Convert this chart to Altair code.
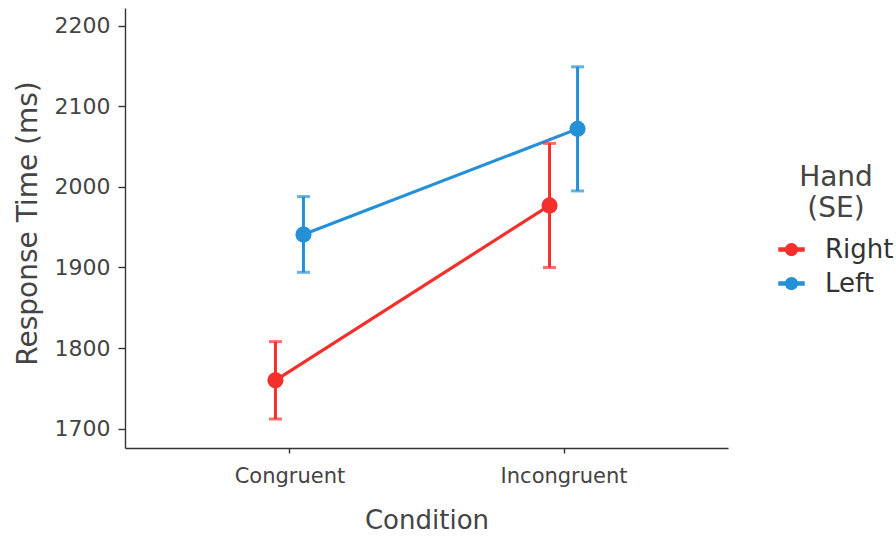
import altair as alt
import pandas as pd

conditions = ["Congruent", "Incongruent"]
hands = ["Right", "Left"]
right_mean = [1760, 1977]
right_se = [48, 77]
left_mean = [1941, 2072]
left_se = [47, 77]
y_ticks = [1700, 1800, 1900, 2000, 2100, 2200]

rows = []
for hand, means, ses in [("Right", right_mean, right_se), ("Left", left_mean, left_se)]:
    for c, m, s in zip(conditions, means, ses):
        rows.append({"condition": c, "hand": hand, "mean": m, "lower": m - s, "upper": m + s})
df = pd.DataFrame(rows)

colors = ["#F3302C", "#2390D8"]
FONT = "DejaVu Sans"
legend_symbol = ("M-1,-0.17 L1,-0.17 L1,0.17 L-1,0.17 Z "
                 "M0.5,0 A0.5,0.5 0 1,1 -0.5,0 A0.5,0.5 0 1,1 0.5,0 Z")

base = alt.Chart(df).encode(
    x=alt.X("condition:N",
            scale=alt.Scale(type="point", domain=conditions, padding=0.6),
            axis=alt.Axis(title="Condition", labelAngle=0, labelFontSize=21,
                          titleFontSize=26, labelPadding=12, titlePadding=21,
                          tickSize=5)),
    xOffset=alt.XOffset("hand:N", scale=alt.Scale(type="point", domain=hands, range=[-14, 14], padding=0)),
    color=alt.Color("hand:N", scale=alt.Scale(domain=hands, range=colors),
                    legend=alt.Legend(title=["Hand", "(SE)"], orient="none",
                                      legendX=653, legendY=156,
                                      titleFontSize=28, labelFontSize=26,
                                      titleLineHeight=31,
                                      titleAnchor="middle", titleFontWeight="normal",
                                      symbolType=legend_symbol, symbolSize=700,
                                      symbolStrokeWidth=0, symbolOpacity=1, labelOffset=20,
                                      rowPadding=7, titlePadding=13)),
)

yax = alt.Y("mean:Q", scale=alt.Scale(domain=[1676, 2222], nice=False, zero=False),
            axis=alt.Axis(title="Response Time (ms)", values=y_ticks, format="d", labelFontSize=22,
                          titleFontSize=28, tickSize=7, labelPadding=8, titlePadding=12,
                          titleY=215))

lines = base.mark_line(strokeWidth=3.2).encode(y=yax, detail="hand:N")
rules = base.mark_rule(strokeWidth=3).encode(y=alt.Y("lower:Q"), y2="upper:Q")
cap_lo = base.mark_tick(orient="horizontal", size=13, thickness=3).encode(y="lower:Q")
cap_hi = base.mark_tick(orient="horizontal", size=13, thickness=3).encode(y="upper:Q")
points = base.mark_point(filled=True, size=260, opacity=1).encode(y=yax)

chart = alt.layer(lines, rules, cap_lo, cap_hi, points).properties(
    width=603, height=440,
    background="white",
    autosize=alt.AutoSizeParams(type="none"),
    padding={"left": 125, "top": 8, "right": 168, "bottom": 89},
).configure_view(stroke=None).configure_axis(
    grid=False, domainColor="#333333", domainWidth=1.4, tickColor="#333333", tickWidth=1.4,
    labelColor="#444444", titleColor="#444444", labelFont=FONT, titleFont=FONT,
    titleFontWeight="normal",
).configure_legend(labelFont=FONT, titleFont=FONT, labelColor="#333333", titleColor="#444444")

chart.save("out.html", embed_options={"renderer": "svg", "actions": False})
